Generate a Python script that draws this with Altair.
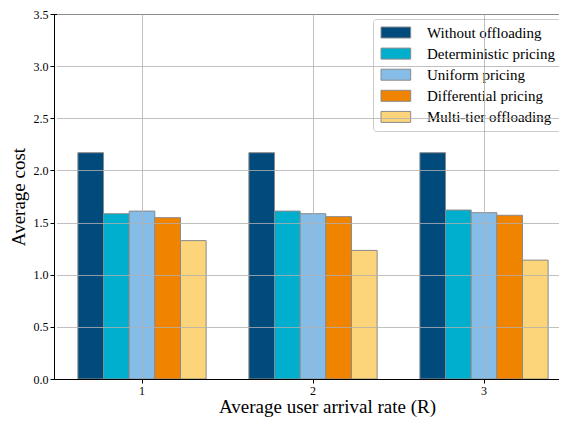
import altair as alt
import pandas as pd

categories = ["1", "2", "3"]
series = ["Without offloading", "Deterministic pricing", "Uniform pricing",
          "Differential pricing", "Multi-tier offloading"]
without_offloading = [2.17, 2.17, 2.17]
deterministic = [1.585, 1.61, 1.62]
uniform = [1.61, 1.585, 1.595]
differential = [1.547, 1.557, 1.57]
multi_tier = [1.327, 1.233, 1.14]
colors = ["#004a7c", "#00aecd", "#86bde8", "#f08300", "#fcd57a"]

vals = [without_offloading, deterministic, uniform, differential, multi_tier]
rows = []
for s, v in zip(series, vals):
    for c, y in zip(categories, v):
        rows.append({"rate": c, "method": s, "cost": y})
df = pd.DataFrame(rows)

FONT = "Liberation Serif"

chart = alt.Chart(df).mark_bar(stroke="#8a8a8a", strokeWidth=1).encode(
    x=alt.X("rate:N", sort=categories,
            scale=alt.Scale(paddingInner=0.25, paddingOuter=0.125, range=[2.5, 515.5]),
            axis=alt.Axis(title="Average user arrival rate (R)", labelAngle=0,
                          bandPosition=0.5, grid=True, zindex=1,
                          titleX=273, titleAlign="center",
                          labelPadding=2, titlePadding=1)),
    xOffset=alt.XOffset("method:N", sort=series),
    y=alt.Y("cost:Q", scale=alt.Scale(domain=[0, 3.5], nice=False),
            axis=alt.Axis(title="Average cost", values=[0, 0.5, 1, 1.5, 2, 2.5, 3, 3.5],
                          format=".1f", grid=True, zindex=1, titlePadding=5)),
    color=alt.Color("method:N", sort=series,
                    scale=alt.Scale(domain=series, range=colors),
                    legend=alt.Legend(title=None, orient="none", legendX=319, legendY=5,
                                      padding=6, strokeColor="#cccccc", cornerRadius=3,
                                      fillColor="white",
                                      symbolType="M-1,-1L4.4,-1L4.4,1L-1,1Z",
                                      symbolSize=121, symbolStrokeColor="#8a8a8a",
                                      symbolStrokeWidth=1, symbolOpacity=1,
                                      labelFont=FONT, labelFontSize=15, labelColor="black",
                                      labelOffset=33, rowPadding=5.1, labelLimit=300)),
).properties(
    width=505, height=365,
    autosize=alt.AutoSizeParams(type="none"),
    padding={"left": 46, "top": 6, "right": 0, "bottom": 39},
).configure(
    font=FONT
).configure_view(
    stroke="black", strokeWidth=1
).configure_axis(
    labelFont=FONT, titleFont=FONT, labelFontSize=12, titleFontSize=19,
    labelColor="black", titleColor="black", titleFontWeight="normal",
    domainColor="black", domainWidth=1, tickColor="black", tickSize=4,
    gridColor="#b0b0b0", gridWidth=0.8,
)

chart.save("out.html", embed_options={"renderer": "svg", "actions": False})
